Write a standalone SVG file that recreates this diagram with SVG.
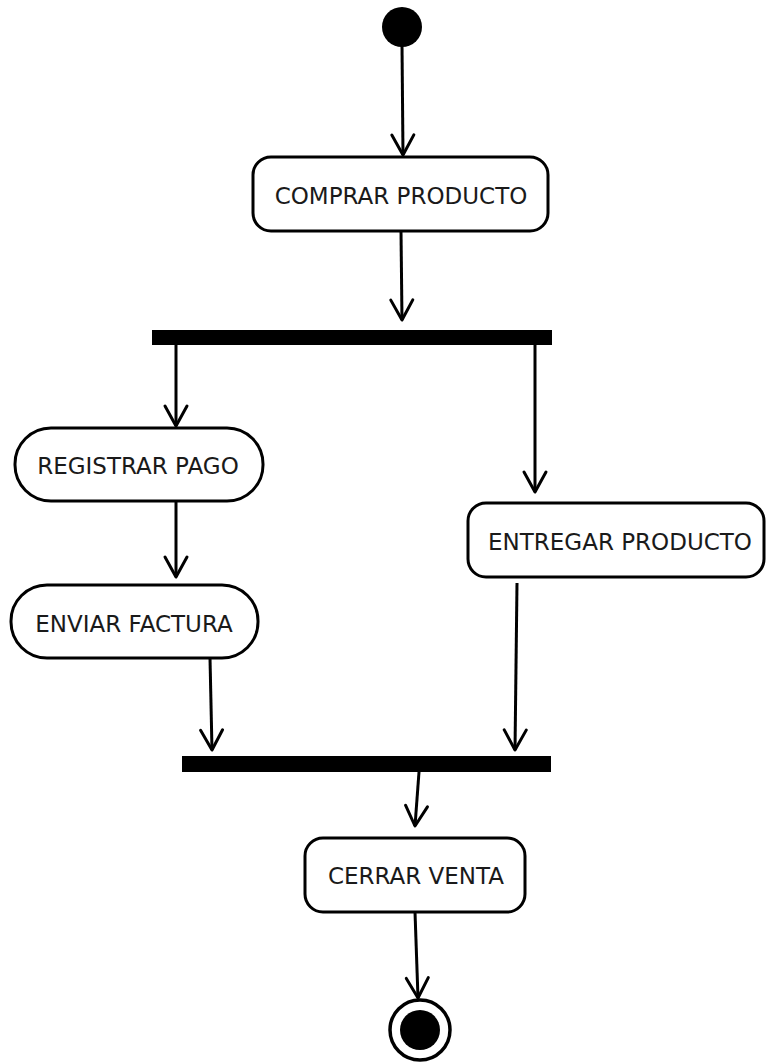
<svg xmlns="http://www.w3.org/2000/svg" width="766" height="1062" viewBox="0 0 766 1062">
<defs>
<style>
.node{fill:#ffffff;stroke:#000000;stroke-width:3}
.lbl{font-family:"DejaVu Sans","Liberation Sans",sans-serif;font-size:23px;fill:#1a1a1a;text-anchor:middle}
.bar{fill:#000000}
.edge{fill:none;stroke:#000000;stroke-width:3}
</style>
<marker id="arr" viewBox="-24 -15 30 30" refX="0" refY="0" markerWidth="30" markerHeight="30" markerUnits="userSpaceOnUse" orient="auto">
<path d="M-20,-11 L0,0 L-20,11" fill="none" stroke="#000000" stroke-width="3" stroke-linejoin="round" stroke-linecap="round"/>
</marker>
</defs>
<rect width="766" height="1062" fill="#ffffff"/>
<g id="edges">
<path class="edge" d="M402,45 L403,155" marker-end="url(#arr)"/>
<path class="edge" d="M401,231 L402,320" marker-end="url(#arr)"/>
<path class="edge" d="M176,345 L176,426" marker-end="url(#arr)"/>
<path class="edge" d="M176,501 L176,577" marker-end="url(#arr)"/>
<path class="edge" d="M535,345 L535,492" marker-end="url(#arr)"/>
<path class="edge" d="M210,658 L212,750" marker-end="url(#arr)"/>
<path class="edge" d="M517,583 L515,750" marker-end="url(#arr)"/>
<path class="edge" d="M419,772 L415,826" marker-end="url(#arr)"/>
<path class="edge" d="M415,912 L418,998" marker-end="url(#arr)"/>
</g>
<g id="start">
<circle cx="402" cy="27" r="20" fill="#000000"/>
</g>
<g id="comprar">
<rect class="node" x="253" y="157" width="295" height="74" rx="18"/>
<text class="lbl" x="401" y="204">COMPRAR PRODUCTO</text>
</g>
<g id="fork">
<rect class="bar" x="152" y="330" width="400" height="15"/>
</g>
<g id="registrar">
<rect class="node" x="15" y="428" width="248" height="73" rx="36"/>
<text class="lbl" x="138" y="474">REGISTRAR PAGO</text>
</g>
<g id="enviar">
<rect class="node" x="11" y="585" width="247" height="73" rx="36"/>
<text class="lbl" x="134" y="632">ENVIAR FACTURA</text>
</g>
<g id="entregar">
<rect class="node" x="468" y="503" width="296" height="74" rx="18"/>
<text class="lbl" x="620" y="550">ENTREGAR PRODUCTO</text>
</g>
<g id="join">
<rect class="bar" x="182" y="756" width="369" height="16"/>
</g>
<g id="cerrar">
<rect class="node" x="305" y="838" width="220" height="74" rx="18"/>
<text class="lbl" x="416" y="884">CERRAR VENTA</text>
</g>
<g id="end">
<circle cx="420" cy="1030" r="30" fill="#ffffff" stroke="#000000" stroke-width="3.5"/>
<circle cx="420" cy="1030" r="20" fill="#000000"/>
</g>
</svg>
